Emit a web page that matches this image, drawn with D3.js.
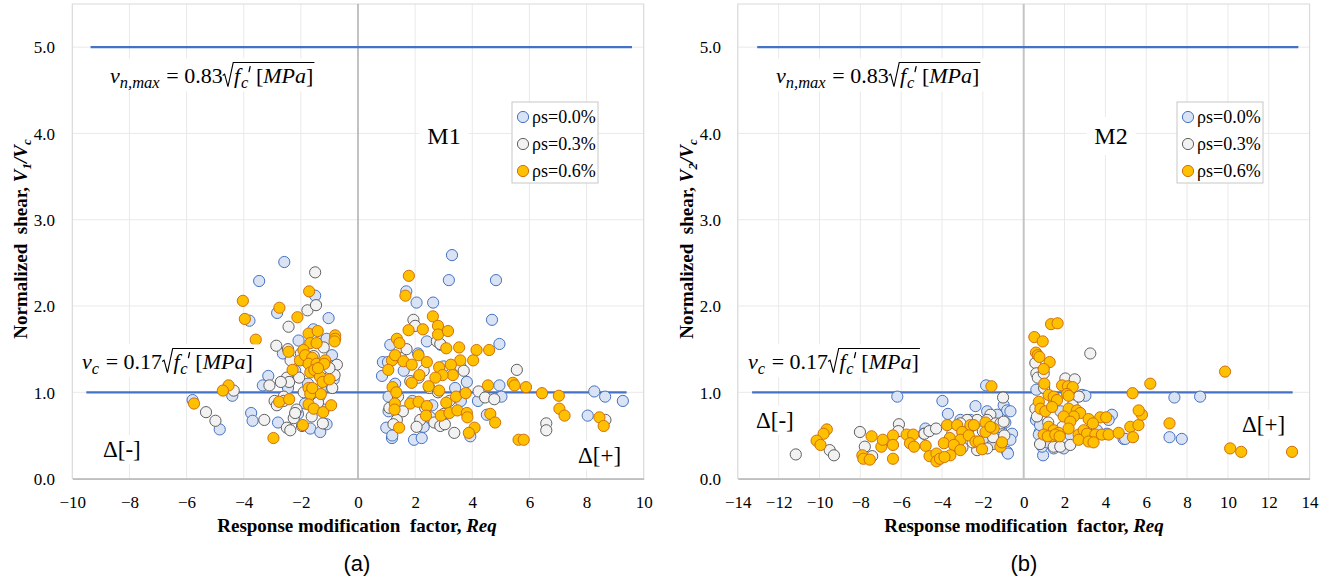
<!DOCTYPE html>
<html>
<head>
<meta charset="utf-8">
<script src="https://cdn.jsdelivr.net/npm/d3@7"></script>
<style>
  html, body { margin: 0; padding: 0; background: #fff; }
  svg { display: block; }
</style>
</head>
<body>
<svg id="chart" width="1341" height="584"></svg>
<script>
// ---------------- data ----------------
const seriesNames = ["ρs=0.0%", "ρs=0.3%", "ρs=0.6%"];
const yTicks = [0, 1, 2, 3, 4, 5];
const xTicksM1 = [-10, -8, -6, -4, -2, 0, 2, 4, 6, 8, 10];
const xTicksM2 = [-14, -12, -10, -8, -6, -4, -2, 0, 2, 4, 6, 8, 10, 12, 14];

// limit lines (v_n,max and v_c), drawn as two-point line series
const vnmaxLineM1 = [[-9.36, 5.0], [9.59, 5.0]];
const vcLineM1 = [[-9.51, 1.0], [9.40, 1.0]];
const vnmaxLineM2 = [[-13.05, 5.0], [13.45, 5.0]];
const vcLineM2 = [[-13.3, 1.0], [13.17, 1.0]];

// M1: [Req, V1/Vc]
const m1Rho00 = [
  [-2.58,2.51],[-3.46,2.29],[-2.83,1.92],[-3.80,1.83],[-1.50,2.12],[-1.03,1.86],[-1.56,1.73],[-2.08,1.60],
  [-1.45,1.66],[-1.10,1.62],[-0.91,1.43],[-2.63,1.45],[-3.14,1.19],[-3.33,1.08],[-1.85,0.87],[-3.74,0.76],
  [-3.69,0.67],[-2.80,0.65],[-1.67,0.58],[-1.32,0.54],[-1.10,0.63],[-4.40,0.96],[-5.79,0.91],[-4.84,0.57],
  [-0.85,1.15],[-1.30,1.05],[-2.20,1.25],[-1.95,1.38],[-2.45,1.05],[-1.75,1.10],[-1.35,0.95],[-1.20,0.80],
  [-2.10,0.75],[-0.95,1.30],
  [3.29,2.59],[3.18,2.30],[4.83,2.30],[1.69,2.17],[2.05,2.04],[2.63,2.04],[4.69,1.84],[4.95,1.56],
  [0.84,1.19],[8.27,1.01],[8.65,0.95],[9.27,0.90],[8.04,0.73],[4.95,1.08],[5.02,0.95],[0.99,0.59],
  [1.19,0.47],[1.96,0.45],[2.23,0.47],[3.93,0.49],[1.13,1.55],[0.87,1.35],[1.07,0.95],[1.07,0.78],
  [2.41,1.59],[3.81,1.12],[4.51,0.74],[1.20,0.50],[1.60,1.25],[2.10,1.45],[3.00,1.30],[3.40,1.05],
  [2.90,1.55],[2.60,0.85],[1.90,0.90],[1.30,1.10],[3.60,0.90],[2.30,0.60],[4.20,0.90],[1.05,1.35]
];
const m1Rho03 = [
  [-1.50,2.39],[-1.77,1.95],[-1.47,2.01],[-2.43,1.76],[-2.86,1.54],[-2.45,1.50],[-2.36,1.37],[-0.74,1.32],
  [-0.82,1.20],[-2.49,1.17],[-2.41,1.12],[-2.06,1.17],[-3.10,1.08],[-2.92,0.90],[-2.84,0.85],[-2.15,0.80],
  [-3.28,0.68],[-2.49,0.59],[-2.37,0.56],[-1.96,0.61],[-1.23,0.64],[-2.25,0.70],[-2.20,0.76],[-4.35,1.02],
  [-5.32,0.77],[-4.99,0.67],[-1.30,1.25],[-1.00,1.28],[-2.60,0.95],[-1.90,1.00],[-1.55,1.42],[-1.20,1.52],
  [-2.00,1.45],[-2.70,1.12],[-1.62,0.72],[-0.90,1.05],[-2.60,0.90],[-1.40,0.88],
  [1.94,1.84],[2.00,1.77],[2.76,1.59],[2.88,1.56],[3.58,1.30],[1.83,1.13],[2.12,1.17],[4.22,1.01],
  [4.45,0.94],[4.77,0.92],[1.57,0.78],[1.36,0.68],[2.18,0.68],[2.53,0.71],[2.67,0.65],[2.88,0.61],
  [3.04,0.63],[3.37,0.53],[1.24,0.63],[5.56,1.26],[6.59,0.64],[6.59,0.56],[8.66,0.68],[2.30,1.25],
  [1.50,1.40],[2.50,1.05],[3.20,0.90],[1.40,0.95],[2.05,0.60],[3.70,1.25],[2.80,1.00],[1.70,1.50],
  [3.00,0.75],[1.10,0.82],[2.35,0.82]
];
const m1Rho06 = [
  [-1.71,2.17],[-2.75,1.98],[-2.12,1.87],[-3.58,1.61],[-4.03,2.06],[-3.96,1.85],[-1.73,1.68],[-1.41,1.71],
  [-0.80,1.66],[-0.80,1.62],[-0.82,1.59],[-1.67,1.57],[-1.45,1.57],[-1.91,1.49],[-2.43,1.47],[-2.03,1.37],
  [-1.85,1.43],[-1.60,1.40],[-1.73,1.33],[-1.45,1.33],[-1.15,1.37],[-1.18,1.33],[-2.29,1.26],[-1.67,1.23],
  [-1.53,1.26],[-1.33,1.18],[-1.24,1.12],[-1.00,1.15],[-1.73,1.05],[-1.67,0.98],[-1.30,0.98],[-2.76,0.89],
  [-2.41,0.92],[-1.73,0.86],[-1.55,0.81],[-1.22,0.77],[-0.94,0.85],[-1.93,0.62],[-2.96,0.47],[-4.53,1.08],
  [-4.73,1.02],[-5.74,0.87],[-1.60,1.05],[-1.40,1.28],
  [1.78,2.35],[1.66,2.12],[2.62,1.88],[2.80,1.77],[2.80,1.67],[3.15,1.71],[2.27,1.73],[1.77,1.72],
  [1.36,1.62],[1.45,1.57],[3.09,1.51],[3.54,1.52],[4.15,1.49],[4.59,1.49],[4.03,1.37],[3.58,1.37],
  [1.19,1.37],[1.06,1.26],[1.30,1.43],[1.59,1.36],[1.88,1.32],[2.12,1.43],[2.41,1.35],[2.84,1.29],
  [3.25,1.32],[3.32,1.20],[2.96,1.20],[2.71,1.17],[2.15,1.20],[1.88,1.11],[2.47,1.07],[2.84,1.02],
  [1.21,1.06],[1.34,1.00],[1.29,0.87],[1.28,0.80],[1.83,0.87],[2.12,0.89],[2.41,0.84],[2.38,0.73],
  [3.09,0.88],[3.43,0.95],[3.77,0.99],[2.90,0.73],[3.20,0.76],[3.48,0.79],[3.81,0.76],[3.83,0.71],
  [1.44,0.59],[4.08,0.59],[3.88,0.53],[4.55,1.08],[4.63,0.75],[4.80,0.65],[5.42,1.11],[5.48,1.08],
  [5.88,1.06],[6.44,0.99],[7.03,0.96],[7.05,0.81],[7.23,0.73],[8.45,0.71],[8.60,0.61],[5.62,0.45],
  [5.80,0.45]
];

// M2: [Req, V2/Vc]
const m2Rho00 = [
  [-6.19,0.95],[-3.98,0.90],[-3.71,0.75],[-2.36,0.84],[-1.84,1.08],[-0.98,0.85],[-0.81,0.79],[-0.65,0.78],
  [-4.81,0.58],[-4.89,0.52],[-0.81,0.31],[-0.77,0.29],[-0.57,0.52],[-0.65,0.45],[-3.10,0.68],[-2.61,0.68],
  [-1.79,0.78],[-1.30,0.74],[-1.10,0.55],[-2.00,0.45],[-3.30,0.38],[-1.50,0.40],[-0.90,0.65],[-1.20,0.60],
  [7.38,0.94],[8.64,0.95],[7.14,0.48],[7.74,0.46],[4.89,0.46],[0.95,0.27],[0.62,1.03],[2.86,0.97],
  [3.02,0.96],[4.32,0.74],[4.16,0.68],[0.79,0.54],[0.74,0.51],[0.90,0.37],[1.96,0.35],[1.47,0.35],
  [4.97,0.46],[3.59,0.56],[4.08,0.52],[0.60,0.68],[1.80,0.78],[2.30,0.50],[0.80,0.62],[1.15,0.42]
];
const m2Rho03 = [
  [-11.16,0.28],[-9.50,0.33],[-9.29,0.27],[-8.02,0.54],[-7.78,0.37],[-7.42,0.26],[-6.11,0.63],[-6.14,0.55],
  [-4.86,0.52],[-4.62,0.55],[-4.29,0.58],[-1.01,0.94],[-2.28,0.68],[-1.63,0.74],[-1.79,0.68],[-1.38,0.64],
  [-1.14,0.64],[-0.98,0.66],[-2.77,0.68],[-2.61,0.60],[-3.10,0.64],[-2.28,0.33],[-1.79,0.35],[-3.00,0.36],
  [-2.00,0.55],[-1.50,0.48],[-0.95,0.50],[-3.50,0.52],[-2.50,0.42],
  [3.26,1.45],[0.57,1.34],[0.62,1.22],[0.69,1.17],[2.04,1.16],[2.50,1.15],[0.98,1.22],[0.57,0.81],
  [0.65,0.72],[1.47,0.37],[1.79,0.37],[2.28,0.39],[1.00,1.05],[1.50,0.90],[2.40,0.85],[1.90,0.60],
  [2.70,0.95],[1.20,0.65],[0.80,0.40]
];
const m2Rho06 = [
  [-9.64,0.57],[-9.80,0.52],[-10.14,0.44],[-9.95,0.39],[-7.90,0.27],[-7.85,0.23],[-7.54,0.22],[-7.45,0.49],
  [-6.97,0.37],[-6.90,0.45],[-6.40,0.50],[-6.40,0.39],[-6.40,0.23],[-5.73,0.51],[-5.41,0.51],[-5.57,0.41],
  [-5.37,0.37],[-4.80,0.38],[-4.61,0.26],[-4.27,0.29],[-4.27,0.20],[-4.10,0.23],[-3.75,0.62],[-3.26,0.62],
  [-3.01,0.54],[-2.61,0.62],[-2.44,0.62],[-1.87,0.65],[-1.47,0.58],[-3.62,0.47],[-3.10,0.45],[-2.69,0.50],
  [-2.36,0.43],[-2.20,0.43],[-3.91,0.41],[-3.42,0.39],[-3.10,0.33],[-3.59,0.27],[-2.04,0.34],[-1.14,0.37],
  [-1.06,0.42],[-1.87,0.54],[-1.63,0.60],[-1.58,1.07],[-3.88,0.25],
  [1.34,1.79],[1.66,1.80],[0.52,1.64],[0.93,1.59],[0.60,1.46],[0.69,1.43],[0.77,1.41],[1.27,1.35],
  [0.98,1.27],[1.01,1.10],[1.88,1.08],[2.17,1.07],[2.40,1.06],[2.12,0.98],[2.20,0.96],[1.22,0.97],
  [1.47,0.95],[1.63,0.91],[0.74,0.89],[0.82,0.81],[1.06,0.78],[1.39,0.83],[2.20,0.81],[2.61,0.79],
  [2.77,0.76],[2.45,0.72],[3.18,0.69],[3.75,0.71],[4.04,0.71],[3.39,0.64],[1.22,0.60],[1.47,0.56],
  [1.39,0.49],[1.71,0.53],[1.96,0.72],[2.28,0.66],[2.20,0.58],[2.69,0.51],[2.94,0.56],[3.10,0.52],
  [3.51,0.51],[3.83,0.51],[4.16,0.51],[4.65,0.53],[0.98,0.51],[1.18,0.49],[1.55,0.51],[1.76,0.49],
  [2.69,0.45],[3.18,0.43],[3.42,0.42],[5.22,0.60],[5.62,0.62],[5.79,0.74],[5.63,0.79],[5.35,0.48],
  [5.33,0.99],[6.20,1.10],[9.86,1.24],[7.14,0.64],[10.11,0.35],[10.65,0.31],[13.14,0.31]
];

// ---------------- styles ----------------
const SERIF = "'Liberation Serif', 'Times New Roman', serif";
const SANS = "'Liberation Sans', Arial, sans-serif";
const markerStyles = [
  { fill: "#DAE3F3", stroke: "#4472C4" },
  { fill: "#F2F2F2", stroke: "#606060" },
  { fill: "#FFC000", stroke: "#D0700E" }
];
const R = 5.6;

const svg = d3.select("#chart");

// lays out a math-style formula piece by piece; returns [x start, x end]
function drawFormula(g, x0, base, parts, fs) {
  let x = x0;
  let radStart = null;
  let lastStart = x0;
  parts.forEach(p => {
    if (p.gap !== undefined) { x += p.gap * fs; return; }
    if (p.rad === "open") { radStart = x; x += fs * 0.52; return; }
    if (p.rad === "close") {
      const top = base - fs * 0.93;
      const path = d3.path();
      path.moveTo(radStart, base - fs * 0.34);
      path.lineTo(radStart + fs * 0.09, base - fs * 0.40);
      path.lineTo(radStart + fs * 0.24, base + fs * 0.16);
      path.lineTo(radStart + fs * 0.48, top);
      path.lineTo(x + fs * 0.05, top);
      g.append("path").attr("d", path.toString()).attr("fill", "none")
        .attr("stroke", "#000").attr("stroke-width", 1.1);
      x += fs * 0.1;
      return;
    }
    if (p.prime) {
      // prime mark above the preceding glyph
      const px = lastStart + fs * 0.42;
      g.append("line")
        .attr("x1", px).attr("y1", base - fs * 0.74)
        .attr("x2", px - fs * 0.05).attr("y2", base - fs * 0.52)
        .attr("stroke", "#000").attr("stroke-width", 1.3).attr("stroke-linecap", "round");
      return;
    }
    const size = p.sub ? fs * 0.75 : fs;
    const dy = p.sub ? fs * 0.22 : 0;
    x += (p.dx || 0) * fs;
    lastStart = x;
    const t = g.append("text")
      .attr("x", x).attr("y", base + dy)
      .style("font-family", SERIF)
      .attr("font-size", size)
      .attr("font-style", p.it ? "italic" : "normal")
      .text(p.t);
    x += t.node().getComputedTextLength();
  });
  return [x0, x];
}

function formulaBox(g, x0, base, parts, fs) {
  const holder = g.append("g");
  const bg = holder.append("rect").attr("fill", "#fff");
  const [a, b] = drawFormula(holder, x0, base, parts, fs);
  bg.attr("x", a - 5).attr("y", base - fs * 1.12).attr("width", b - a + 10).attr("height", fs * 1.5);
}

const vnmaxParts = [
  { t: "v", it: 1 }, { t: "n,max", it: 1, sub: 1 }, { gap: 0.3 }, { t: "=" }, { gap: 0.25 },
  { t: "0.83" }, { rad: "open" }, { t: "f", it: 1 }, { t: "c", it: 1, sub: 1, dx: 0.03 }, { prime: 1 },
  { gap: 0.35 }, { t: "[" }, { t: "MPa", it: 1 }, { t: "]" }, { rad: "close" }
];
const vcParts = [
  { t: "v", it: 1 }, { t: "c", it: 1, sub: 1 }, { gap: 0.3 }, { t: "=" }, { gap: 0.25 },
  { t: "0.17" }, { rad: "open" }, { t: "f", it: 1 }, { t: "c", it: 1, sub: 1, dx: 0.03 }, { prime: 1 },
  { gap: 0.35 }, { t: "[" }, { t: "MPa", it: 1 }, { t: "]" }, { rad: "close" }
];

function drawPanel(cfg) {
  const x = d3.scaleLinear().domain(cfg.xDomain).range([cfg.left, cfg.right]);
  const y = d3.scaleLinear().domain([0, 5.5]).range([cfg.bottom, cfg.top]);
  const g = svg.append("g");

  // gridlines
  g.append("g").selectAll("line").data(cfg.xTicks).join("line")
    .attr("x1", d => x(d)).attr("x2", d => x(d))
    .attr("y1", y(5.5)).attr("y2", y(0))
    .attr("stroke", "#e9e9e9").attr("stroke-width", 1);
  g.append("g").selectAll("line").data(yTicks).join("line")
    .attr("x1", x(cfg.xDomain[0])).attr("x2", x(cfg.xDomain[1]))
    .attr("y1", d => y(d)).attr("y2", d => y(d))
    .attr("stroke", "#e9e9e9").attr("stroke-width", 1);
  // plot-area edges
  g.append("rect")
    .attr("x", x(cfg.xDomain[0])).attr("y", y(5.5))
    .attr("width", x(cfg.xDomain[1]) - x(cfg.xDomain[0]))
    .attr("height", y(0) - y(5.5))
    .attr("fill", "none").attr("stroke", "#d9d9d9").attr("stroke-width", 1);

  // axes
  const xAxis = d3.axisBottom(x).tickValues(cfg.xTicks).tickSize(0).tickPadding(0)
    .tickFormat(d3.format("d"));
  const xa = g.append("g").attr("transform", `translate(0,${y(0)})`).call(xAxis);
  xa.select(".domain").attr("stroke", "#bfbfbf").attr("stroke-width", 1.6);
  xa.selectAll("text").style("font-family", SERIF).attr("font-size", 17)
    .attr("fill", "#000").attr("dy", 0).attr("y", 29);

  const yAxis = d3.axisLeft(y).tickValues(yTicks).tickSize(0).tickPadding(0)
    .tickFormat(d3.format(".1f"));
  const ya = g.append("g").attr("transform", `translate(${cfg.yLabelRight},0)`).call(yAxis);
  ya.select(".domain").remove();
  ya.selectAll("text").style("font-family", SERIF).attr("font-size", 17)
    .attr("fill", "#000").attr("x", 0).attr("dy", "0.34em");

  // vertical axis line at Req = 0
  g.append("line")
    .attr("x1", x(0)).attr("x2", x(0)).attr("y1", y(5.5)).attr("y2", y(0))
    .attr("stroke", cfg.zeroColor).attr("stroke-width", cfg.zeroWidth);

  // limit lines
  const line = d3.line().x(d => x(d[0])).y(d => y(d[1]));
  [cfg.vnmaxLine, cfg.vcLine].forEach(l => {
    g.append("path").attr("d", line(l)).attr("fill", "none")
      .attr("stroke", "#4472C4").attr("stroke-width", 2.2);
  });

  // scatter series
  cfg.series.forEach((s, i) => {
    g.append("g").selectAll("circle").data(s).join("circle")
      .attr("cx", d => x(d[0])).attr("cy", d => y(d[1])).attr("r", R)
      .attr("fill", markerStyles[i].fill).attr("stroke", markerStyles[i].stroke)
      .attr("stroke-width", 1);
  });

  // formula text boxes
  formulaBox(g, cfg.vnmaxX, 83, vnmaxParts, 22);
  formulaBox(g, cfg.vcX, 369, vcParts, 22);

  // panel label (M1 / M2) with white box
  const mg = g.append("g");
  const mt = mg.append("text").attr("x", cfg.mX).attr("y", 144)
    .style("font-family", SERIF).attr("font-size", 24).attr("text-anchor", "middle").text(cfg.mLabel);
  const mb = mt.node().getBBox();
  mg.insert("rect", "text").attr("x", mb.x - 8).attr("y", mb.y - 6)
    .attr("width", mb.width + 16).attr("height", mb.height + 12).attr("fill", "#fff");

  // Δ[-] and Δ[+]
  [[cfg.dMinus, "Δ[-]"], [cfg.dPlus, "Δ[+]"]].forEach(([p, label]) => {
    const dg = g.append("g");
    const t = dg.append("text").attr("x", p[0]).attr("y", p[1])
      .style("font-family", SERIF).attr("font-size", 23).text(label);
    const b = t.node().getBBox();
    dg.insert("rect", "text").attr("x", b.x - 4).attr("y", b.y - 2)
      .attr("width", b.width + 8).attr("height", b.height + 4).attr("fill", "#fff");
  });

  // legend
  const lg = g.append("g");
  lg.append("rect").attr("x", cfg.legend[0]).attr("y", cfg.legend[1])
    .attr("width", 86).attr("height", 81)
    .attr("fill", "#fff").attr("stroke", "#c8c8c8").attr("stroke-width", 1);
  seriesNames.forEach((name, i) => {
    const cy = cfg.legend[1] + 15 + i * 27;
    lg.append("circle").attr("cx", cfg.legend[0] + 11).attr("cy", cy).attr("r", R)
      .attr("fill", markerStyles[i].fill).attr("stroke", markerStyles[i].stroke).attr("stroke-width", 1);
    lg.append("text").attr("x", cfg.legend[0] + 20).attr("y", cy + 6)
      .style("font-family", SERIF).attr("font-size", 18).text(name);
  });

  // axis titles
  const yt = g.append("text")
    .attr("transform", `translate(${cfg.yTitleX},239) rotate(-90)`)
    .style("font-family", SERIF)
    .attr("text-anchor", "middle").attr("font-size", 19).attr("font-weight", "bold");
  yt.append("tspan").text("Normalized\u00a0 shear, ");
  yt.append("tspan").attr("font-style", "italic").text("V");
  yt.append("tspan").attr("font-style", "italic").attr("font-size", 13).attr("dy", 4).text(cfg.vIndex);
  yt.append("tspan").attr("font-style", "italic").attr("dy", -4).text("/V");
  yt.append("tspan").attr("font-style", "italic").attr("font-size", 13).attr("dy", 4).text("c");

  const xt = g.append("text").attr("x", cfg.xTitleX).attr("y", 532)
    .style("font-family", SERIF)
    .attr("text-anchor", "middle").attr("font-size", 19).attr("font-weight", "bold");
  xt.append("tspan").text("Response modification\u00a0 factor, ");
  xt.append("tspan").attr("font-style", "italic").text("Req");

  g.append("text").attr("x", cfg.xTitleX).attr("y", 571)
    .attr("text-anchor", "middle").attr("font-size", 22)
    .style("font-family", SANS).text(cfg.caption);
}

drawPanel({
  xDomain: [-10, 10], xTicks: xTicksM1, left: 72.3, right: 643.7, top: 4, bottom: 478.6,
  yLabelRight: 55, zeroColor: "#a0a0a0", zeroWidth: 1.2,
  vnmaxLine: vnmaxLineM1, vcLine: vcLineM1,
  series: [m1Rho00, m1Rho03, m1Rho06],
  vnmaxX: 110, vcX: 82, mX: 444, mLabel: "M1",
  dMinus: [103, 457], dPlus: [578, 463],
  legend: [512, 102], yTitleX: 27, vIndex: "1", xTitleX: 357, caption: "(a)"
});

drawPanel({
  xDomain: [-14, 14], xTicks: xTicksM2, left: 737.8, right: 1309.6, top: 4, bottom: 478.6,
  yLabelRight: 721, zeroColor: "#c4c4c4", zeroWidth: 2,
  vnmaxLine: vnmaxLineM2, vcLine: vcLineM2,
  series: [m2Rho00, m2Rho03, m2Rho06],
  vnmaxX: 776, vcX: 748, mX: 1111, mLabel: "M2",
  dMinus: [756, 428], dPlus: [1242, 432],
  legend: [1177, 102], yTitleX: 693, vIndex: "2", xTitleX: 1024, caption: "(b)"
});
</script>
</body>
</html>
